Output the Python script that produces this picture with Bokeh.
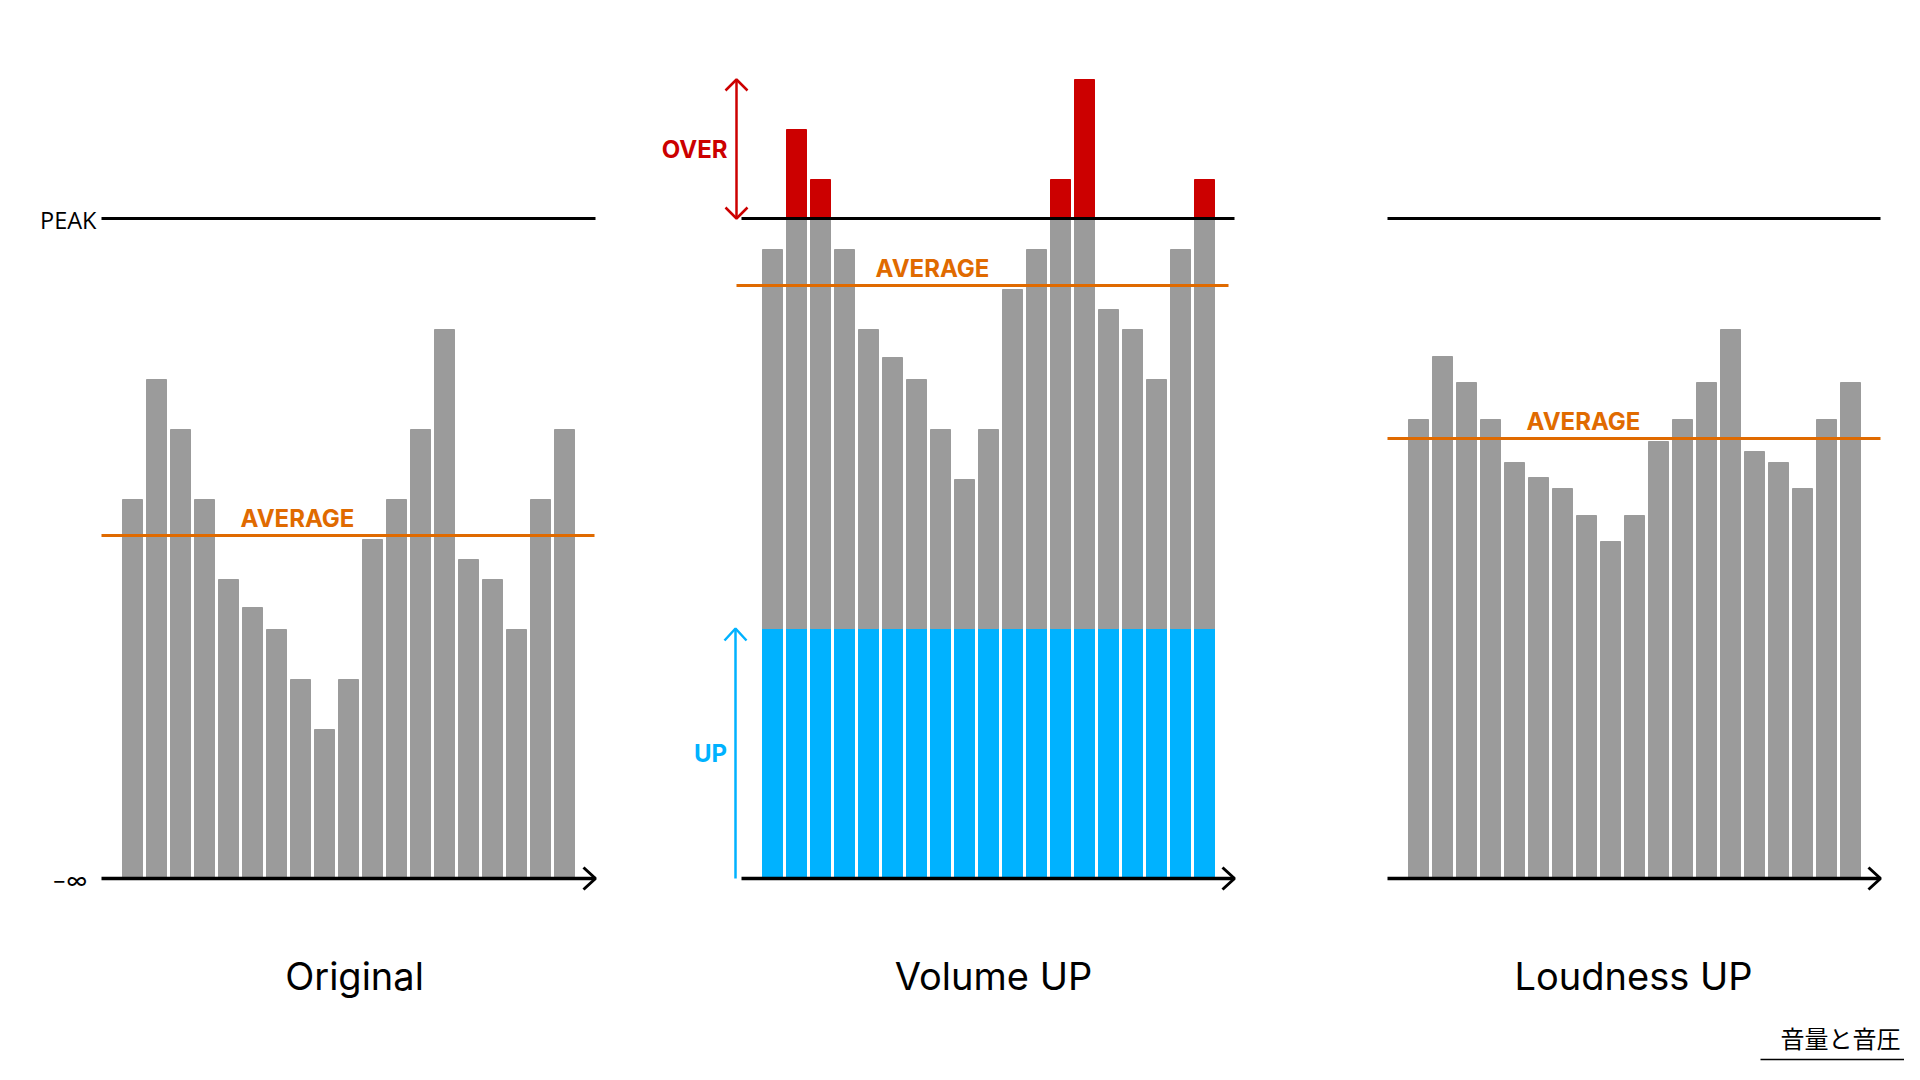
from bokeh.plotting import figure
from bokeh.models import Range1d
from bokeh.core.properties import value
from bokeh.embed import file_html
from bokeh.resources import INLINE

# ---------------- data (levels above the "-inf" baseline) ----------------
bar_index = list(range(19))
original = [379, 499, 449, 379, 299, 271, 249, 199, 149, 199, 339, 379, 449, 549, 319, 299, 249, 379, 449]
volume_up = [629, 749, 699, 629, 549, 521, 499, 449, 399, 449, 589, 629, 699, 799, 569, 549, 499, 629, 699]
loudness_up = [459, 522, 496, 459, 416, 401, 390, 363, 337, 363, 437, 459, 496, 549, 427, 416, 390, 459, 496]
gain = 250
peak_level = 660
average_levels = [343, 593, 440]
panel_titles = ["Original", "Volume UP", "Loudness UP"]

# ---------------- layout / style ----------------
GRAY = "#9b9b9b"
BLUE = "#00b2ff"
RED = "#cc0000"
ORANGE = "#e06a00"
PITCH = 24
BAR_W = 20
bar_start = [122, 762, 1408]
axis_span = [(101, 595), (741, 1234), (1387, 1880)]
avg_span = [(101, 594), (736, 1228), (1387, 1880)]
avg_label_x = [297, 932, 1583]
title_x = [354, 993, 1633]

W, H = 1904, 1064
BASE_Y = 878  # pixel row of the baseline

p = figure(width=W, height=H, output_backend="svg", toolbar_location=None,
           x_range=Range1d(0, W), y_range=Range1d(BASE_Y - H, BASE_Y),
           x_axis_location=None, y_axis_location=None, min_border=0,
           background_fill_color="white", border_fill_color="white")
p.outline_line_color = None
p.grid.visible = False


def xs(panel):
    return [bar_start[panel] + BAR_W / 2 + i * PITCH for i in bar_index]


# Original
p.vbar(x=xs(0), width=BAR_W, bottom=0, top=original, color=GRAY)

# Volume UP: blue gain part, gray part up to peak, red part above peak
p.vbar(x=xs(1), width=BAR_W, bottom=0, top=[gain] * len(bar_index), color=BLUE)
p.vbar(x=xs(1), width=BAR_W, bottom=gain, top=[min(v, peak_level) for v in volume_up], color=GRAY)
over_x = [x for x, v in zip(xs(1), volume_up) if v > peak_level]
over_v = [v for v in volume_up if v > peak_level]
p.vbar(x=over_x, width=BAR_W, bottom=peak_level, top=over_v, color=RED)

# Loudness UP
p.vbar(x=xs(2), width=BAR_W, bottom=0, top=loudness_up, color=GRAY)

# Peak lines
for a, b in axis_span:
    p.segment(x0=a, y0=peak_level, x1=b, y1=peak_level, line_color="black", line_width=3)

# Average lines + labels
for k in range(3):
    a, b = avg_span[k]
    p.segment(x0=a, y0=average_levels[k], x1=b, y1=average_levels[k], line_color=ORANGE, line_width=3)
    p.text(x=[avg_label_x[k]], y=[average_levels[k] + 17], text=["AVERAGE"],
           text_font=value("Inter"), text_font_style="bold", text_font_size="24px",
           text_color=ORANGE, text_align="center", text_baseline="alphabetic")

# Baselines with arrow heads
for a, b in axis_span:
    p.segment(x0=a, y0=0, x1=b, y1=0, line_color="black", line_width=3.5)
    p.multi_line(xs=[[b - 12, b, b - 12]], ys=[[11, 0, -11]], line_color="black", line_width=3)

# OVER arrow (red, double headed)
ax = 736
top_v = max(volume_up)
p.segment(x0=ax, y0=peak_level, x1=ax, y1=top_v, line_color=RED, line_width=2.5)
p.multi_line(xs=[[ax - 11, ax, ax + 11], [ax - 11, ax, ax + 11]],
             ys=[[top_v - 11, top_v, top_v - 11], [peak_level + 11, peak_level, peak_level + 11]],
             line_color=RED, line_width=2.5)
p.text(x=[727], y=[729], text=["OVER"], text_font=value("Inter"), text_font_style="bold",
       text_font_size="24px", text_color=RED, text_align="right", text_baseline="alphabetic")

# UP arrow (blue)
bx = 735
p.segment(x0=bx, y0=0, x1=bx, y1=gain, line_color=BLUE, line_width=2.5)
p.multi_line(xs=[[bx - 11, bx, bx + 11]], ys=[[gain - 12, gain, gain - 12]], line_color=BLUE, line_width=2.5)
p.text(x=[710], y=[125], text=["UP"], text_font=value("Inter"), text_font_style="bold",
       text_font_size="24px", text_color=BLUE, text_align="center", text_baseline="alphabetic")

# Axis labels
p.text(x=[96], y=[peak_level - 1], text=["PEAK"], text_font=value("Open Sans"), text_font_size="23.5px",
       text_color="black", text_align="right", text_baseline="middle")
p.text(x=[69], y=[-1], text=["\u2212\u221e"], text_font=value("Inter"), text_font_size="22px",
       text_color="black", text_align="center", text_baseline="middle")

# Panel titles
p.text(x=title_x, y=[-97] * 3, text=panel_titles, text_font=value("Inter"), text_font_size="38px",
       text_color="black", text_align="center", text_baseline="alphabetic")

# Footer note
p.text(x=[1840], y=[-159], text=["音量と音圧"], text_font=value("Noto Sans CJK JP"), text_font_size="24px",
       text_color="black", text_align="center", text_baseline="middle")
p.segment(x0=1760, y0=-181, x1=W, y1=-181, line_color="black", line_width=1.5)

open("out.html", "w").write(file_html(p, INLINE))
